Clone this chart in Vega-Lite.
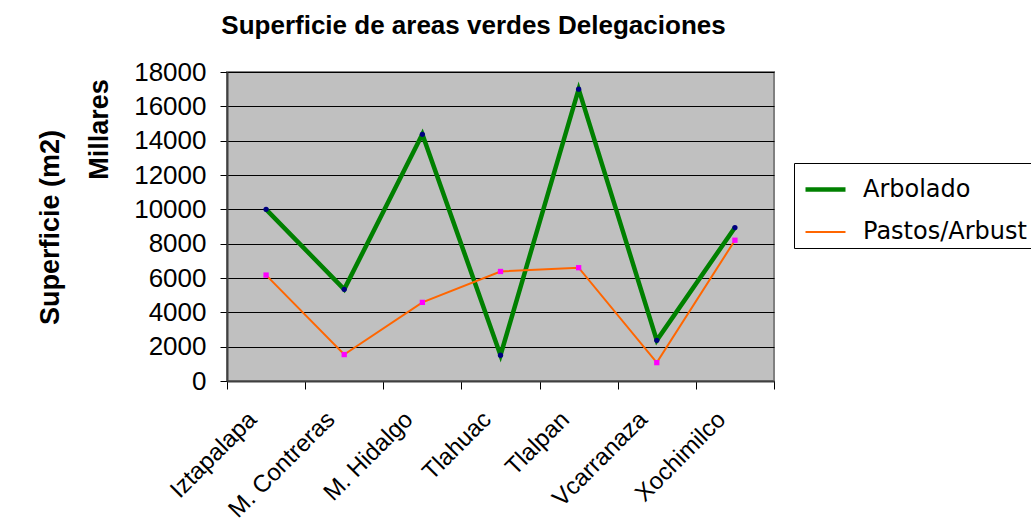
{
  "$schema": "https://vega.github.io/schema/vega-lite/v6.json",
  "width": 547,
  "height": 309,
  "autosize": {"type": "none"},
  "padding": {"left": 227, "top": 72, "right": 257, "bottom": 137},
  "background": "white",
  "title": {
    "text": "Superficie de areas verdes Delegaciones",
    "font": "Liberation Sans",
    "fontSize": 26,
    "fontWeight": "bold",
    "color": "black",
    "anchor": "middle",
    "dx": -27,
    "offset": 20
  },
  "config": {
    "view": {"fill": "#c0c0c0", "stroke": "#808080", "strokeWidth": 2}
  },
  "data": {
    "values": [
      {"delegacion": "Iztapalapa", "serie": "Arbolado", "valor": 10000},
      {"delegacion": "M. Contreras", "serie": "Arbolado", "valor": 5340},
      {"delegacion": "M. Hidalgo", "serie": "Arbolado", "valor": 14370},
      {"delegacion": "Tlahuac", "serie": "Arbolado", "valor": 1500},
      {"delegacion": "Tlalpan", "serie": "Arbolado", "valor": 17000},
      {"delegacion": "Vcarranaza", "serie": "Arbolado", "valor": 2370},
      {"delegacion": "Xochimilco", "serie": "Arbolado", "valor": 8940},
      {"delegacion": "Iztapalapa", "serie": "Pastos/Arbust", "valor": 6170},
      {"delegacion": "M. Contreras", "serie": "Pastos/Arbust", "valor": 1540},
      {"delegacion": "M. Hidalgo", "serie": "Pastos/Arbust", "valor": 4580},
      {"delegacion": "Tlahuac", "serie": "Pastos/Arbust", "valor": 6380},
      {"delegacion": "Tlalpan", "serie": "Pastos/Arbust", "valor": 6600},
      {"delegacion": "Vcarranaza", "serie": "Pastos/Arbust", "valor": 1070},
      {"delegacion": "Xochimilco", "serie": "Pastos/Arbust", "valor": 8200}
    ]
  },
  "encoding": {
    "x": {
      "field": "delegacion",
      "type": "nominal",
      "sort": null,
      "scale": {"paddingInner": 0, "paddingOuter": 0},
      "axis": {
        "title": null,
        "labelAngle": -45,
        "labelFont": "Liberation Sans",
        "labelFontSize": 24,
        "labelColor": "black",
        "labelPadding": 18,
        "labelOffset": -22,
        "tickBand": "extent",
        "tickSize": 8,
        "tickColor": "black",
        "domainColor": "#404040",
        "domainWidth": 2,
        "grid": false
      }
    },
    "y": {
      "field": "valor",
      "type": "quantitative",
      "scale": {"domain": [0, 18000], "nice": false},
      "axis": {
        "values": [0, 2000, 4000, 6000, 8000, 10000, 12000, 14000, 16000, 18000],
        "format": "d",
        "title": "Millares",
        "titleFont": "Liberation Sans",
        "titleFontSize": 27,
        "titleFontWeight": "bold",
        "titleColor": "black",
        "titleX": -128,
        "titleY": 57,
        "titleAlign": "center",
        "titleBaseline": "middle",
        "titleAngle": -90,
        "labelFont": "Liberation Sans",
        "labelFontSize": 26,
        "labelColor": "black",
        "labelPadding": 14,
        "tickSize": 7,
        "tickColor": "black",
        "domainColor": "#404040",
        "domainWidth": 2,
        "grid": true,
        "gridColor": "black",
        "gridWidth": 1,
        "gridOpacity": 1
      }
    }
  },
  "layer": [
    {
      "mark": {"type": "line"},
      "encoding": {
        "stroke": {
          "field": "serie",
          "type": "nominal",
          "scale": {"domain": ["Arbolado", "Pastos/Arbust"], "range": ["#008000", "#ff6600"]},
          "legend": {
            "orient": "none",
            "legendX": 567,
            "legendY": 91,
            "title": null,
            "symbolType": "stroke",
            "symbolSize": 1600,
            "symbolOffset": 5,
            "labelFont": "DejaVu Sans",
            "labelFontSize": 24,
            "labelColor": "black",
            "labelOffset": 15,
            "labelLimit": 400,
            "strokeColor": "black",
            "fillColor": "white",
            "padding": 4,
            "rowPadding": 9
          }
        },
        "strokeWidth": {
          "field": "serie",
          "type": "nominal",
          "scale": {"domain": ["Arbolado", "Pastos/Arbust"], "range": [4.5, 2]},
          "legend": null
        }
      }
    },
    {
      "mark": {"type": "point", "filled": true, "opacity": 1, "strokeWidth": 0, "size": 28},
      "encoding": {
        "fill": {
          "condition": {"test": "datum.serie === 'Arbolado'", "value": "#000080"},
          "value": "#ff00ff"
        },
        "shape": {
          "condition": {"test": "datum.serie === 'Arbolado'", "value": "circle"},
          "value": "square"
        },
        "y": {
          "field": "valor",
          "type": "quantitative",
          "scale": {"domain": [0, 18000], "nice": false},
          "axis": {
            "orient": "left",
            "title": "Superficie (m2)",
            "titleFont": "Liberation Sans",
            "titleFontSize": 27,
            "titleFontWeight": "bold",
            "titleColor": "black",
            "titleX": -177,
            "titleY": 155,
            "titleAlign": "center",
            "titleBaseline": "middle",
            "titleAngle": -90,
            "labels": false,
            "ticks": false,
            "domain": false,
            "grid": false
          }
        }
      }
    }
  ],
  "resolve": {"axis": {"y": "independent"}}
}
